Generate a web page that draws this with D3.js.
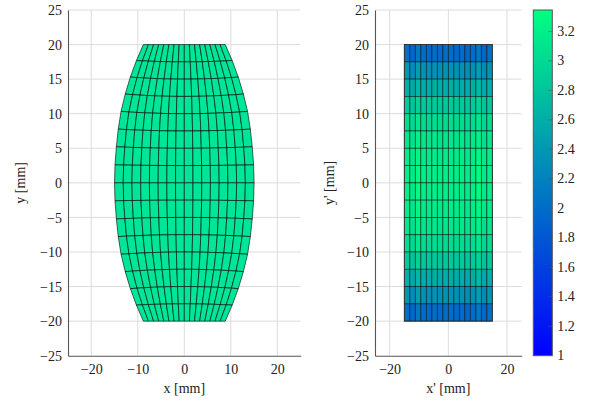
<!DOCTYPE html>
<html lang="en">
<head>
  <meta charset="UTF-8">
  <title>Distorted mesh</title>
  <script src="https://d3js.org/d3.v7.min.js"></script>
  <style>
    body { margin: 0; background: #fff; }
    svg text { font-family: "Liberation Serif", "Times New Roman", serif !important; }
  </style>
</head>
<body>
<div id="viz"></div>
<script>
// grid nodes of the undistorted field (x', y') in mm
var nodeX = [-15, -13.125, -11.25, -9.375, -7.5, -5.625, -3.75, -1.875, 0, 1.875, 3.75, 5.625, 7.5, 9.375, 11.25, 13.125, 15];
var nodeY = [20, 17.5, 15, 12.5, 10, 7.5, 5, 2.5, 0, -2.5, -5, -7.5, -10, -12.5, -15, -17.5, -20];

// distorted field: half width of each node row, and how far the row ends lift off y'
var rowHalfWidth = [8.8, 10.3, 11.6, 12.7, 13.6, 14.2, 14.6, 14.9, 15.0, 14.9, 14.6, 14.2, 13.6, 12.7, 11.6, 10.3, 8.8];
var rowEdgeLift = [0, 0.18, 0.3, 0.34, 0.33, 0.27, 0.22, 0.1, 0, -0.1, -0.22, -0.27, -0.33, -0.34, -0.3, -0.18, 0];

// cell values of the right plot, top row first
var cellValues = [
  [2.02,1.95,2.10,2.00,1.96,2.00,1.98,2.00,2.00,1.98,2.00,1.96,2.00,2.10,1.95,2.02],
  [2.37,2.30,2.45,2.35,2.31,2.35,2.33,2.35,2.35,2.33,2.35,2.31,2.35,2.45,2.30,2.37],
  [2.62,2.55,2.70,2.60,2.56,2.60,2.58,2.60,2.60,2.58,2.60,2.56,2.60,2.70,2.55,2.62],
  [2.87,2.80,2.95,2.85,2.81,2.85,2.83,2.85,2.85,2.83,2.85,2.81,2.85,2.95,2.80,2.87],
  [3.05,2.98,3.13,3.03,2.99,3.03,3.01,3.03,3.03,3.01,3.03,2.99,3.03,3.13,2.98,3.05],
  [3.14,3.07,3.22,3.12,3.08,3.12,3.10,3.12,3.12,3.10,3.12,3.08,3.12,3.22,3.07,3.14],
  [3.19,3.12,3.27,3.17,3.13,3.17,3.15,3.17,3.17,3.15,3.17,3.13,3.17,3.27,3.12,3.19],
  [3.22,3.15,3.30,3.20,3.16,3.20,3.18,3.20,3.20,3.18,3.20,3.16,3.20,3.30,3.15,3.22],
  [3.22,3.15,3.30,3.20,3.16,3.20,3.18,3.20,3.20,3.18,3.20,3.16,3.20,3.30,3.15,3.22],
  [3.19,3.12,3.27,3.17,3.13,3.17,3.15,3.17,3.17,3.15,3.17,3.13,3.17,3.27,3.12,3.19],
  [3.14,3.07,3.22,3.12,3.08,3.12,3.10,3.12,3.12,3.10,3.12,3.08,3.12,3.22,3.07,3.14],
  [3.05,2.98,3.13,3.03,2.99,3.03,3.01,3.03,3.03,3.01,3.03,2.99,3.03,3.13,2.98,3.05],
  [2.87,2.80,2.95,2.85,2.81,2.85,2.83,2.85,2.85,2.83,2.85,2.81,2.85,2.95,2.80,2.87],
  [2.62,2.55,2.70,2.60,2.56,2.60,2.58,2.60,2.60,2.58,2.60,2.56,2.60,2.70,2.55,2.62],
  [2.37,2.30,2.45,2.35,2.31,2.35,2.33,2.35,2.35,2.33,2.35,2.31,2.35,2.45,2.30,2.37],
  [2.02,1.95,2.10,2.00,1.96,2.00,1.98,2.00,2.00,1.98,2.00,1.96,2.00,2.10,1.95,2.02]
];

var leftXTicks = [-20, -10, 0, 10, 20];
var rightXTicks = [-20, 0, 20];
var yTicks = [-25, -20, -15, -10, -5, 0, 5, 10, 15, 20, 25];
var colorTicks = [1, 1.2, 1.4, 1.6, 1.8, 2, 2.2, 2.4, 2.6, 2.8, 3, 3.2];
var colorRange = [1, 3.345];

var W = 592, H = 401, FS = 14;
var svg = d3.select("#viz").append("svg").attr("width", W).attr("height", H);

var y = d3.scaleLinear().domain([-25, 25]).range([355.7, 10]);
var xL = d3.scaleLinear().domain([-25, 25]).range([68, 300.6]);
var xR = d3.scaleLinear().domain([-25, 25]).range([375, 521.7]);
var color = d3.scaleLinear().domain(colorRange).range(["#0000ff", "#00ff80"]);

var fmt = function(d) { return d < 0 ? "\u2212" + Math.abs(d) : String(d); };

function drawAxes(x, xTicks, xLabel, yLabel, yLabelX) {
  var g = svg.append("g");
  // grid
  g.selectAll(".gx").data(xTicks).enter().append("line")
    .attr("x1", d => x(d)).attr("x2", d => x(d))
    .attr("y1", y.range()[0]).attr("y2", y.range()[1])
    .attr("stroke", "#dcdcdc").attr("stroke-width", 1);
  g.selectAll(".gy").data(yTicks.filter(d => d > -25)).enter().append("line")
    .attr("x1", x.range()[0]).attr("x2", x.range()[1])
    .attr("y1", d => y(d)).attr("y2", d => y(d))
    .attr("stroke", "#dcdcdc").attr("stroke-width", 1);

  var ax = d3.axisBottom(x).tickValues(xTicks).tickFormat(fmt).tickSize(0).tickPadding(8);
  var ay = d3.axisLeft(y).tickValues(yTicks).tickFormat(fmt).tickSize(0).tickPadding(6);
  var gx = svg.append("g").attr("transform", "translate(0," + y.range()[0] + ")").call(ax);
  var gy = svg.append("g").attr("transform", "translate(" + x.range()[0] + ",0)").call(ay);
  [gx, gy].forEach(function(a) {
    a.attr("font-size", FS);
    a.select(".domain").attr("stroke", "#555").attr("stroke-width", 1.1);
    a.selectAll("text").attr("fill", "#222");
  });
  gy.selectAll("text").attr("dy", "0.33em");

  svg.append("text").attr("x", (x.range()[0] + x.range()[1]) / 2).attr("y", 393)
    .attr("text-anchor", "middle").attr("font-size", FS).attr("fill", "#222").text(xLabel);
  svg.append("text").attr("transform", "translate(" + yLabelX + "," + y(0) + ") rotate(-90)")
    .attr("text-anchor", "middle").attr("font-size", FS).attr("fill", "#222").text(yLabel);
}

drawAxes(xL, leftXTicks, "x [mm]", "y [mm]", 25);
drawAxes(xR, rightXTicks, "x' [mm]", "y' [mm]", 334);

// left: distorted mesh
function leftNode(r, c) {
  var u = nodeX[c] / 15;
  return [xL(u * rowHalfWidth[r]), y(nodeY[r] + rowEdgeLift[r] * u * u)];
}
var leftCells = [];
for (var r = 0; r < nodeY.length - 1; r++) {
  for (var c = 0; c < nodeX.length - 1; c++) {
    leftCells.push([leftNode(r, c), leftNode(r, c + 1), leftNode(r + 1, c + 1), leftNode(r + 1, c)]);
  }
}
svg.append("g").selectAll("polygon").data(leftCells).enter().append("polygon")
  .attr("points", d => d.map(p => p.join(",")).join(" "))
  .attr("fill", "#00e699")
  .attr("stroke", "#000").attr("stroke-opacity", 0.75).attr("stroke-width", 0.8)
  .attr("stroke-linejoin", "round");

// right: regular mesh coloured by value
var rightCells = [];
cellValues.forEach(function(row, r) {
  row.forEach(function(v, c) {
    rightCells.push({ x0: nodeX[c], x1: nodeX[c + 1], y0: nodeY[r], y1: nodeY[r + 1], v: v });
  });
});
svg.append("g").selectAll("rect").data(rightCells).enter().append("rect")
  .attr("x", d => xR(d.x0)).attr("width", d => xR(d.x1) - xR(d.x0))
  .attr("y", d => y(d.y0)).attr("height", d => y(d.y1) - y(d.y0))
  .attr("fill", d => color(d.v))
  .attr("stroke", "#000").attr("stroke-opacity", 0.6).attr("stroke-width", 0.8);
svg.append("rect")
  .attr("x", xR(-15)).attr("y", y(20)).attr("width", xR(15) - xR(-15)).attr("height", y(-20) - y(20))
  .attr("fill", "none").attr("stroke", "#333").attr("stroke-width", 0.9);

// colour bar
var cb = d3.scaleLinear().domain(colorRange).range([355.7, 10]);
var cbX = 533.3, cbW = 19;
var grad = svg.append("defs").append("linearGradient").attr("id", "winter")
  .attr("x1", 0).attr("y1", 1).attr("x2", 0).attr("y2", 0);
grad.append("stop").attr("offset", "0%").attr("stop-color", color(colorRange[0]));
grad.append("stop").attr("offset", "100%").attr("stop-color", color(colorRange[1]));
svg.append("rect").attr("x", cbX).attr("y", cb.range()[1]).attr("width", cbW)
  .attr("height", cb.range()[0] - cb.range()[1]).attr("fill", "url(#winter)")
  .attr("stroke", "#555").attr("stroke-width", 1);
svg.append("g").selectAll("line").data(colorTicks.filter(d => d > 1)).enter().append("line")
  .attr("x1", cbX + cbW - 4).attr("x2", cbX + cbW).attr("y1", d => cb(d)).attr("y2", d => cb(d))
  .attr("stroke", "#555").attr("stroke-opacity", 0.7).attr("stroke-width", 0.8);
svg.append("g").selectAll("text").data(colorTicks).enter().append("text")
  .attr("x", cbX + cbW + 5).attr("y", d => cb(d)).attr("dy", "0.33em")
  .attr("font-size", FS).attr("fill", "#222").text(d => String(d));
</script>
</body>
</html>
